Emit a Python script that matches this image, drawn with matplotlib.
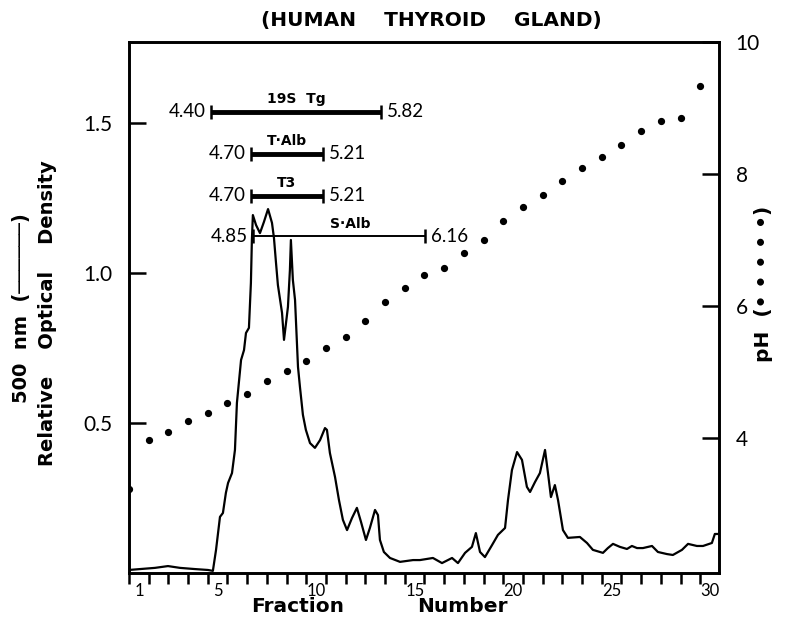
import numpy as np
import matplotlib
matplotlib.use("Agg")
from matplotlib import pyplot as plt
from matplotlib.transforms import ScaledTranslation

# absorbance trace: fraction number vs relative OD (500 nm)
frac = [1.00, 1.56, 2.32, 2.98, 3.59, 4.35, 5.01, 5.26, 5.42, 5.62, 5.77, 5.92,
        6.03, 6.23, 6.38, 6.48, 6.69, 6.84, 6.94, 7.09, 7.19, 7.24, 7.29, 7.45,
        7.65, 7.85, 8.06, 8.26, 8.36, 8.46, 8.56, 8.77, 8.87, 9.07, 9.17, 9.22,
        9.32, 9.43, 9.58, 9.68, 9.83, 9.98, 10.19, 10.44, 10.70, 10.95, 11.05,
        11.20, 11.46, 11.66, 11.86, 12.07, 12.32, 12.57, 12.78, 13.03, 13.23,
        13.49, 13.64, 13.74, 13.94, 14.25, 14.76, 15.42, 15.77, 16.43, 16.89,
        17.40, 17.70, 18.06, 18.41, 18.61, 18.82, 19.07, 19.43, 19.73, 20.09,
        20.24, 20.44, 20.70, 20.95, 21.20, 21.36, 21.61, 21.86, 22.12, 22.27,
        22.42, 22.62, 22.78, 23.03, 23.28, 23.89, 24.25, 24.55, 25.06, 25.31,
        25.57, 25.92, 26.28, 26.53, 26.79, 27.09, 27.55, 27.85, 28.31, 28.61,
        29.07, 29.38, 29.83, 30.14, 30.59, 30.74, 30.95]
od = [0.010, 0.013, 0.017, 0.023, 0.017, 0.013, 0.010, 0.007, 0.077, 0.187,
      0.200, 0.267, 0.300, 0.333, 0.410, 0.567, 0.710, 0.743, 0.800, 0.817,
      0.967, 1.110, 1.193, 1.160, 1.133, 1.170, 1.213, 1.167, 1.117, 1.037,
      0.960, 0.867, 0.777, 0.887, 1.010, 1.110, 0.977, 0.910, 0.687, 0.620,
      0.527, 0.477, 0.433, 0.417, 0.443, 0.483, 0.477, 0.400, 0.320, 0.243,
      0.177, 0.143, 0.183, 0.217, 0.170, 0.110, 0.150, 0.210, 0.193, 0.110,
      0.070, 0.050, 0.037, 0.043, 0.043, 0.050, 0.033, 0.050, 0.033, 0.067,
      0.087, 0.133, 0.070, 0.053, 0.093, 0.127, 0.150, 0.243, 0.343, 0.403,
      0.377, 0.287, 0.270, 0.303, 0.333, 0.410, 0.333, 0.253, 0.293, 0.243,
      0.143, 0.117, 0.120, 0.100, 0.077, 0.067, 0.083, 0.097, 0.087, 0.080,
      0.090, 0.083, 0.083, 0.090, 0.070, 0.063, 0.060, 0.077, 0.097, 0.090,
      0.090, 0.100, 0.130, 0.130]

# pH of each fraction
ph_frac = list(range(1, 31))
ph = [3.23, 3.97, 4.09, 4.26, 4.38, 4.53, 4.67, 4.86, 5.02, 5.17,
      5.36, 5.53, 5.77, 6.06, 6.27, 6.47, 6.58, 6.80, 7.00, 7.29,
      7.50, 7.68, 7.89, 8.09, 8.26, 8.44, 8.65, 8.80, 8.85, 9.33]

# isoelectric ranges of the marker proteins
band_names = ["19S  Tg", "T·Alb", "T3", "S·Alb"]
band_lo = ["4.40", "4.70", "4.70", "4.85"]
band_hi = ["5.82", "5.21", "5.21", "6.16"]
band_start = [5.16, 7.19, 7.19, 7.30]
band_end = [13.79, 10.85, 10.85, 16.03]
band_level = [1.537, 1.397, 1.257, 1.123]

thin = ["Lato"]
heavy = ["DejaVu Sans"]

fig = plt.figure(figsize=(8.01, 6.23), dpi=100)
ax = fig.add_axes([0.161, 0.0803, 0.7366, 0.8523])
ax2 = ax.twinx()

ax.plot(frac, od, color="k", lw=1.6, zorder=3)
ax2.plot(ph_frac, ph, "o", color="k", ms=4.2)

for i in range(len(band_names)):
    lw = 1.4 if i == 3 else 3.5
    ax.plot([band_start[i], band_end[i]], [band_level[i], band_level[i]],
            color="k", lw=lw, solid_capstyle="butt", zorder=4)
    ax.plot([band_start[i], band_end[i]], [band_level[i], band_level[i]],
            ls="none", marker="|", ms=10, mew=1.8, color="k", zorder=4)
    cx = (band_start[i] + band_end[i]) / 2
    if i == 3:
        cx += 0.55
    ax.annotate(band_names[i], (cx, band_level[i]), xytext=(0, 9),
                textcoords="offset points", ha="center", va="center",
                fontsize=10, fontweight="bold", family=heavy)
    ax.annotate(band_lo[i], (band_start[i], band_level[i]), xytext=(-4, 0),
                textcoords="offset points", ha="right", va="center",
                fontsize=13.5, family=thin)
    ax.annotate(band_hi[i], (band_end[i], band_level[i]), xytext=(4, 0),
                textcoords="offset points", ha="left", va="center",
                fontsize=13.5, family=thin)

ax.set_xlim(1, 30.95)
ax.set_ylim(0, 1.77)
ax2.set_ylim(1.955, 10)

# x axis: a tick for every fraction, labels every five
ax.set_xticks([1, 5, 10, 15, 20, 25, 30])
ax.set_xticks(ph_frac, minor=True)
ax.tick_params(axis="x", which="both", direction="out", length=8, width=1.8,
               pad=-1, labelsize=12)
for lab in ax.get_xticklabels():
    lab.set_family(thin)
    lab.set_transform(lab.get_transform() + ScaledTranslation(0.1, 0, fig.dpi_scale_trans))

ax.set_yticks([0.5, 1.0, 1.5], ["0.5", "1.0", "1.5"])
ax.tick_params(axis="y", direction="in", length=12, width=1.8, pad=12,
               labelsize=15)
for lab in ax.get_yticklabels():
    lab.set_family(thin)

ax2.set_yticks([4, 6, 8, 10], ["4", "6", "8", "10"])
ax2.tick_params(axis="y", direction="in", length=12, width=1.8, pad=12,
                labelsize=15)
for lab in ax2.get_yticklabels():
    lab.set_family(thin)

for a in (ax, ax2):
    for s in a.spines.values():
        s.set_linewidth(1.9)

fig.text(0.538, 0.967, "(HUMAN    THYROID    GLAND)", ha="center", va="center",
         fontsize=14.5, fontweight="bold", family=heavy)
fig.text(0.027, 0.505, "500  nm  (──────)", rotation=90, ha="center",
         va="center", fontsize=14, fontweight="bold", family=heavy)
fig.text(0.059, 0.497, "Relative    Optical    Density", rotation=90,
         ha="center", va="center", fontsize=14, fontweight="bold", family=heavy)
fig.text(0.953, 0.545, "pH  (• • • • •)", rotation=90, ha="center",
         va="center", fontsize=14.5, fontweight="bold", family=heavy)
fig.text(0.372, 0.026, "Fraction", ha="center", va="center",
         fontsize=14.5, fontweight="bold", family=heavy)
fig.text(0.577, 0.026, "Number", ha="center", va="center",
         fontsize=14.5, fontweight="bold", family=heavy)

fig.savefig("out.png", dpi=100)
